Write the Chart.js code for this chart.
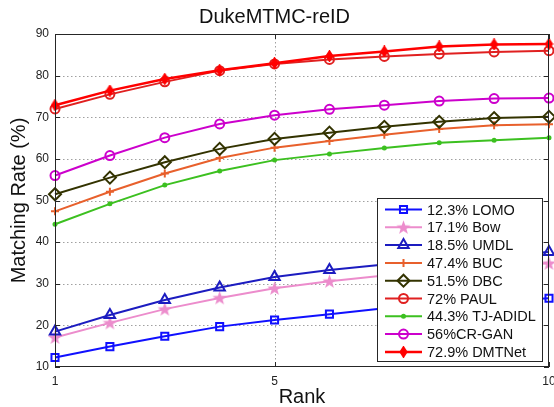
<!DOCTYPE html>
<html>
<head>
<meta charset="utf-8">
<script src="https://cdn.jsdelivr.net/npm/chart.js@4"></script>
<style>
  html, body { margin: 0; padding: 0; background: #fff; }
  canvas { display: block; }
</style>
</head>
<body>
<canvas id="myChart" width="554" height="407"></canvas>
<script>
const ranks = [1, 2, 3, 4, 5, 6, 7, 8, 9, 10];
const xTicks = [1, 5, 10];
const yTicks = [10, 20, 30, 40, 50, 60, 70, 80, 90];

const methods = ['12.3% LOMO', '17.1% Bow', '18.5% UMDL', '47.4% BUC', '51.5% DBC',
  '72% PAUL', '44.3% TJ-ADIDL', '56%CR-GAN', '72.9% DMTNet'];

const lomo  = [12.3, 14.9, 17.4, 19.7, 21.3, 22.7, 24.1, 25.0, 25.8, 26.5];
const bow   = [17.1, 20.6, 23.9, 26.6, 28.9, 30.6, 32.0, 33.1, 34.0, 34.9];
const umdl  = [18.5, 22.5, 26.1, 29.1, 31.6, 33.3, 34.6, 35.8, 36.7, 37.6];
const buc   = [47.4, 52.1, 56.5, 60.2, 62.7, 64.3, 65.8, 67.2, 68.1, 68.3];
const dbc   = [51.5, 55.5, 59.2, 62.4, 64.8, 66.3, 67.7, 68.9, 69.8, 70.1];
const paul  = [72.0, 75.5, 78.5, 81.2, 82.8, 83.9, 84.6, 85.2, 85.7, 86.0];
const tj    = [44.3, 49.2, 53.7, 57.1, 59.7, 61.2, 62.6, 63.9, 64.5, 65.1];
const crgan = [56.0, 60.8, 65.1, 68.4, 70.5, 71.9, 72.9, 73.9, 74.5, 74.6];
const dmt   = [72.9, 76.4, 79.2, 81.3, 83.0, 84.7, 85.8, 87.0, 87.5, 87.6];

// filled 5-point star for Bow
function makeStar(color) {
  const c = document.createElement('canvas');
  c.width = 15; c.height = 15;
  const g = c.getContext('2d');
  g.fillStyle = color;
  g.beginPath();
  for (let i = 0; i < 10; i++) {
    const r = i % 2 ? 3 : 7.5;
    const a = -Math.PI / 2 + i * Math.PI / 5;
    g.lineTo(7.5 + r * Math.cos(a), 8 + r * Math.sin(a));
  }
  g.closePath();
  g.fill();
  return c;
}

// narrow diamond for DMTNet
function makeDiamond(color) {
  const c = document.createElement('canvas');
  c.width = 9; c.height = 12;
  const g = c.getContext('2d');
  g.fillStyle = color;
  g.strokeStyle = color;
  g.lineWidth = 1.5;
  g.beginPath();
  g.moveTo(4.5, 0.8); g.lineTo(7.8, 6); g.lineTo(4.5, 11.2); g.lineTo(1.2, 6);
  g.closePath();
  g.fill(); g.stroke();
  return c;
}

function series(label, vals, color, style, radius, fill, width) {
  return {
    label: label,
    data: ranks.map((r, i) => ({ x: r, y: vals[i] })),
    borderColor: color,
    backgroundColor: color,
    borderWidth: width || 2,
    pointStyle: style,
    pointRadius: radius,
    pointBorderWidth: 2,
    pointBorderColor: color,
    pointBackgroundColor: fill,
    tension: 0,
    clip: false
  };
}

const datasets = [
  series(methods[0], lomo, '#1010ff', 'rect', 5, 'rgba(0,0,0,0)'),
  series(methods[1], bow, '#ec8ccc', makeStar('#ec8ccc'), 7, '#ec8ccc'),
  series(methods[2], umdl, '#1c1cc0', 'triangle', 6, 'rgba(0,0,0,0)'),
  series(methods[3], buc, '#e8602c', 'cross', 4, '#e8602c'),
  series(methods[4], dbc, '#333300', 'rectRot', 6, 'rgba(0,0,0,0)'),
  series(methods[5], paul, '#e02020', 'circle', 4.5, 'rgba(0,0,0,0)'),
  series(methods[6], tj, '#3cc020', 'circle', 1.5, '#3cc020'),
  series(methods[7], crgan, '#cc00cc', 'circle', 4.5, 'rgba(0,0,0,0)'),
  series(methods[8], dmt, '#ff0000', makeDiamond('#ff0000'), 6, '#ff0000', 2.5)
];
datasets.forEach((d, i) => { d.order = datasets.length - i; });

// matlab style dotted grid, box and inward ticks
const axesBox = {
  id: 'axesBox',
  beforeDatasetsDraw(chart) {
    const { ctx, chartArea: a, scales } = chart;
    ctx.save();
    ctx.strokeStyle = '#a0a0a0';
    ctx.lineWidth = 1;
    ctx.setLineDash([1.5, 2.5]);
    ctx.beginPath();
    yTicks.slice(1, -1).forEach(v => {
      const y = Math.round(scales.y.getPixelForValue(v)) + 0.5;
      ctx.moveTo(a.left, y); ctx.lineTo(a.right, y);
    });
    xTicks.slice(1, -1).forEach(v => {
      const x = Math.round(scales.x.getPixelForValue(v)) + 0.5;
      ctx.moveTo(x, a.top); ctx.lineTo(x, a.bottom);
    });
    ctx.stroke();
    ctx.restore();
  },
  afterDatasetsDraw(chart) {
    const { ctx, chartArea: a, scales } = chart;
    ctx.save();
    ctx.strokeStyle = '#262626';
    ctx.lineWidth = 1;
    ctx.strokeRect(a.left + 0.5, a.top + 0.5, a.right - a.left - 1, a.bottom - a.top - 1);
    ctx.beginPath();
    yTicks.forEach(v => {
      const y = Math.round(scales.y.getPixelForValue(v)) + 0.5;
      ctx.moveTo(a.left, y); ctx.lineTo(a.left + 5, y);
      ctx.moveTo(a.right, y); ctx.lineTo(a.right - 5, y);
    });
    xTicks.forEach(v => {
      const x = Math.round(scales.x.getPixelForValue(v)) + 0.5;
      ctx.moveTo(x, a.bottom); ctx.lineTo(x, a.bottom - 5);
      ctx.moveTo(x, a.top); ctx.lineTo(x, a.top + 5);
    });
    ctx.stroke();
    ctx.restore();
  }
};

// legend box in the lower right corner
const legendBox = {
  id: 'legendBox',
  afterDraw(chart) {
    const { ctx, chartArea: a } = chart;
    const w = 165, h = 163;
    const x = a.right - 7 - w, y = a.bottom - 6 - h;
    ctx.save();
    ctx.fillStyle = '#fff';
    ctx.fillRect(x, y, w, h);
    ctx.strokeStyle = '#262626';
    ctx.lineWidth = 1;
    ctx.strokeRect(x + 0.5, y + 0.5, w, h);
    ctx.font = '14.5px "Liberation Sans", Arial, sans-serif';
    ctx.textBaseline = 'middle';
    chart.data.datasets.forEach((ds, i) => {
      const cy = y + 11.5 + i * 17.8;
      ctx.strokeStyle = ds.borderColor;
      ctx.lineWidth = ds.borderWidth;
      ctx.beginPath();
      ctx.moveTo(x + 8, cy); ctx.lineTo(x + 45, cy);
      ctx.stroke();
      ctx.fillStyle = ds.pointBackgroundColor;
      ctx.lineWidth = ds.pointBorderWidth;
      Chart.helpers.drawPoint(ctx, {
        pointStyle: ds.pointStyle, radius: ds.pointRadius,
        borderWidth: ds.pointBorderWidth, rotation: 0
      }, x + 26.5, cy);
      ctx.fillStyle = '#111';
      ctx.fillText(ds.label, x + 50, cy + 1);
    });
    ctx.restore();
  }
};

Chart.defaults.font.family = '"Liberation Sans", Arial, sans-serif';
Chart.defaults.color = '#222';

const ctx = document.getElementById('myChart');

new Chart(ctx, {
  type: 'line',
  data: { datasets: datasets },
  plugins: [axesBox, legendBox],
  options: {
    responsive: false,
    animation: false,
    layout: { autoPadding: false, padding: { right: 5, left: 0, bottom: 0, top: 0 } },
    scales: {
      x: {
        type: 'linear',
        min: 1,
        max: 10,
        afterBuildTicks: s => { s.ticks = xTicks.map(v => ({ value: v })); },
        afterFit: s => { s.height = 40; s.paddingLeft = 0; s.paddingRight = 0; },
        ticks: { font: { size: 12 }, color: '#222', padding: 7, maxRotation: 0 },
        grid: { display: false, drawTicks: false },
        border: { display: false },
        title: { display: true, text: 'Rank', font: { size: 20, lineHeight: 1 }, color: '#111', padding: 0 }
      },
      y: {
        min: 10,
        max: 90,
        afterBuildTicks: s => { s.ticks = yTicks.map(v => ({ value: v })); },
        afterFit: s => { s.width = 55; s.paddingTop = 0; s.paddingBottom = 0; },
        ticks: { font: { size: 12 }, color: '#222', padding: 6 },
        grid: { display: false, drawTicks: false },
        border: { display: false },
        title: { display: true, text: 'Matching Rate (%)', font: { size: 20, lineHeight: 1 }, color: '#111', padding: { top: 9, bottom: 9 } }
      }
    },
    plugins: {
      legend: { display: false },
      tooltip: { enabled: false },
      title: {
        display: true,
        text: 'DukeMTMC-reID',
        font: { size: 20, weight: 'normal', lineHeight: 1.2 },
        color: '#111',
        padding: { top: 5, bottom: 5 }
      }
    }
  }
});
</script>
</body>
</html>
